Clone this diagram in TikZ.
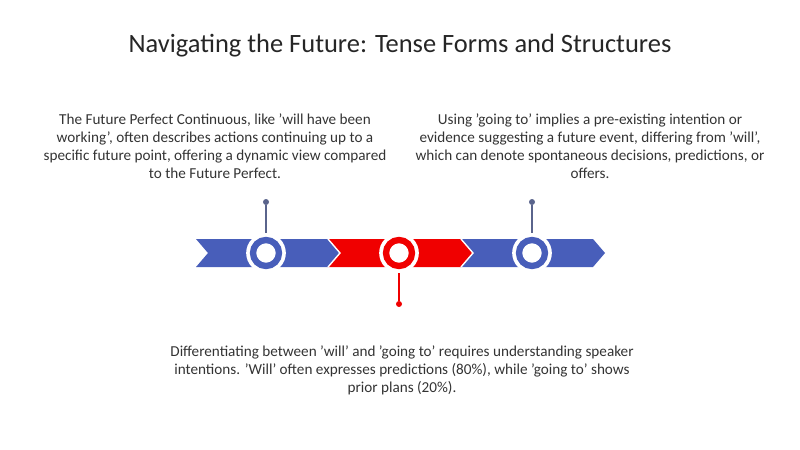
\documentclass[tikz,border=0pt]{standalone}
\usepackage{fontspec}
\setmainfont{Carlito}
\definecolor{myblue}{RGB}{72,94,186}
\definecolor{myred}{RGB}{240,0,0}
\definecolor{pinblue}{RGB}{90,100,140}
\begin{document}
\begin{tikzpicture}[x=0.025cm,y=-0.025cm,
    ring/.style={circle,draw=white,line width=1.2pt,fill=white,minimum size=38*0.025cm,inner sep=0pt},
    hole/.style={circle,draw=#1,line width=4.5pt,fill=white,minimum size=26*0.025cm,inner sep=0pt},
    pin/.style={circle,fill=#1,minimum size=6*0.025cm,inner sep=0pt},
    body/.style={font=\fontsize{10.8}{12.8}\selectfont,align=center,text=black!80}]
        \useasboundingbox (0,0) rectangle (800,449);

        % chevrons
        \fill[myblue] (196,239) -- (328,239) -- (340,253) -- (328,267) -- (196,267) -- (208,253) -- cycle;
        \fill[myred] (328,239) -- (461,239) -- (473,253) -- (461,267) -- (328,267) -- (340,253) -- cycle;
        \fill[myblue] (461,239) -- (593,239) -- (605,253) -- (593,267) -- (461,267) -- (473,253) -- cycle;
        \draw[white,line width=1pt] (328,239) -- (340,253) -- (328,267) (461,239) -- (473,253) -- (461,267);

        % rings
        \node[ring] (r1) at (266,253) {};
        \node[ring] (r2) at (399,253) {};
        \node[ring] (r3) at (532,253) {};
        \node[hole=myblue] (c1) at (266,253) {};
        \node[hole=myred] (c2) at (399,253) {};
        \node[hole=myblue] (c3) at (532,253) {};

        % pins
        \node[pin=pinblue] (p1) at (266,202) {};
        \node[pin=myred] (p2) at (399,304) {};
        \node[pin=pinblue] (p3) at (532,202) {};
        \draw[pinblue,line width=1pt] (p1) -- (r1);
        \draw[myred,line width=1pt] (p2) -- (r2);
        \draw[pinblue,line width=1pt] (p3) -- (r3);

        % texts
        \node[font=\fontsize{18.8}{22}\selectfont,text=black!85] (title) at (400,46) {Navigating the Future: Tense Forms and Structures};
        \node[body] (t1) at (215,146) {The Future Perfect Continuous, like 'will have been\\ working', often describes actions continuing up to a\\ specific future point, offering a dynamic view compared\\ to the Future Perfect.};
        \node[body] (t3) at (590,146) {Using 'going to' implies a pre-existing intention or\\ evidence suggesting a future event, differing from 'will',\\ which can denote spontaneous decisions, predictions, or\\ offers.};
        \node[body] (t2) at (402,370) {Differentiating between 'will' and 'going to' requires understanding speaker\\ intentions. 'Will' often expresses predictions (80\%), while 'going to' shows\\ prior plans (20\%).};
\end{tikzpicture}
\end{document}
